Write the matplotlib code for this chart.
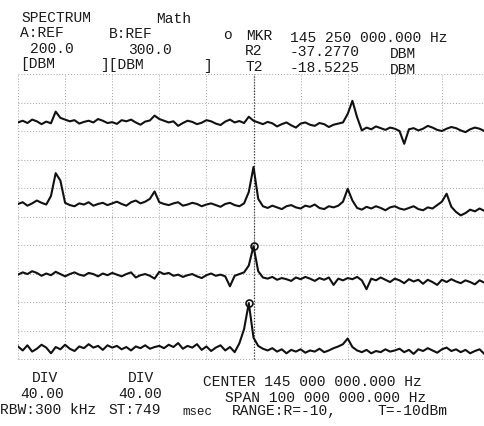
import numpy as np
import matplotlib.pyplot as plt

# sweep axis: CENTER 145 MHz, SPAN 100 MHz -> 95 .. 195 MHz in 1 MHz steps
freq_mhz = np.arange(95, 196)

# trace levels, in divisions (0 = bottom line, 10 = top line)
trace_1 = [
    8.30, 8.36, 8.28, 8.40, 8.34, 8.24, 8.33, 8.27, 8.68, 8.46,
    8.40, 8.34, 8.38, 8.26, 8.32, 8.36, 8.30, 8.42, 8.36, 8.28,
    8.31, 8.25, 8.38, 8.34, 8.40, 8.30, 8.22, 8.33, 8.37, 8.54,
    8.42, 8.36, 8.30, 8.34, 8.18, 8.28, 8.36, 8.32, 8.24, 8.29,
    8.38, 8.34, 8.26, 8.21, 8.33, 8.40, 8.30, 8.35, 8.28, 8.50,
    8.36, 8.30, 8.24, 8.32, 8.27, 8.16, 8.24, 8.30, 8.20, 8.12,
    8.26, 8.30, 8.22, 8.18, 8.28, 8.24, 8.14, 8.22, 8.26, 8.30,
    8.60, 9.06, 8.48, 8.02, 8.12, 8.06, 8.16, 8.10, 8.04, 8.12,
    8.08, 8.00, 7.55, 8.06, 8.10, 8.02, 8.08, 8.18, 8.12, 8.04,
    8.00, 8.08, 8.14, 8.10, 8.02, 7.96, 8.06, 8.12, 8.08, 8.00, 8.06,
]
trace_2 = [
    5.44, 5.50, 5.38, 5.46, 5.56, 5.48, 5.42, 5.72, 6.52, 6.26,
    5.48, 5.40, 5.36, 5.46, 5.42, 5.50, 5.38, 5.44, 5.48, 5.40,
    5.46, 5.52, 5.44, 5.38, 5.50, 5.56, 5.46, 5.52, 5.62, 5.88,
    5.50, 5.44, 5.40, 5.46, 5.50, 5.38, 5.42, 5.48, 5.44, 5.36,
    5.42, 5.46, 5.40, 5.34, 5.44, 5.48, 5.40, 5.36, 5.46, 5.86,
    6.74, 5.62, 5.36, 5.30, 5.38, 5.32, 5.26, 5.36, 5.40, 5.32,
    5.28, 5.38, 5.34, 5.42, 5.30, 5.26, 5.36, 5.32, 5.38, 5.52,
    5.97, 5.56, 5.30, 5.24, 5.34, 5.28, 5.36, 5.30, 5.22, 5.32,
    5.36, 5.28, 5.24, 5.30, 5.36, 5.26, 5.22, 5.32, 5.28, 5.40,
    5.52, 5.80, 5.34, 5.16, 5.04, 5.12, 5.24, 5.18, 5.28, 5.20, 5.24,
]
trace_3 = [
    2.96, 3.04, 2.98, 3.08, 3.02, 2.92, 3.00, 2.94, 3.06, 2.98,
    2.90, 2.98, 3.04, 2.96, 2.92, 3.02, 2.98, 2.90, 3.00, 2.94,
    3.02, 2.96, 2.90, 2.98, 3.04, 2.86, 2.94, 2.98, 2.92, 2.82,
    3.06, 2.98, 3.02, 2.92, 2.96, 2.88, 2.94, 2.98, 2.90, 2.84,
    2.94, 3.00, 2.92, 2.96, 2.90, 2.55, 2.92, 2.98, 3.04, 3.28,
    3.96, 3.08, 2.86, 2.82, 2.88, 2.78, 2.84, 2.80, 2.74, 2.86,
    2.80, 2.88, 2.82, 2.74, 2.84, 2.78, 2.86, 2.60, 2.82, 2.76,
    2.84, 2.80, 2.88, 2.76, 2.45, 2.82, 2.76, 2.86, 2.78, 2.70,
    2.82, 2.76, 2.66, 2.80, 2.72, 2.78, 2.64, 2.78, 2.70, 2.60,
    2.78, 2.70, 2.80, 2.72, 2.66, 2.76, 2.70, 2.62, 2.76, 2.68, 2.72,
]
trace_4 = [
    0.44, 0.30, 0.48, 0.26, 0.36, 0.50, 0.40, 0.20, 0.42, 0.34,
    0.50, 0.36, 0.28, 0.44, 0.38, 0.52, 0.40, 0.46, 0.32, 0.48,
    0.40, 0.46, 0.34, 0.42, 0.30, 0.44, 0.38, 0.48, 0.36, 0.42,
    0.46, 0.38, 0.50, 0.42, 0.56, 0.36, 0.46, 0.40, 0.52, 0.32,
    0.44, 0.28, 0.40, 0.48, 0.30, 0.42, 0.24, 0.55, 1.05, 1.96,
    0.75, 0.46, 0.36, 0.30, 0.38, 0.26, 0.34, 0.20, 0.32, 0.26,
    0.34, 0.22, 0.30, 0.26, 0.36, 0.24, 0.30, 0.38, 0.44, 0.52,
    0.72, 0.42, 0.30, 0.24, 0.32, 0.20, 0.28, 0.24, 0.34, 0.26,
    0.30, 0.36, 0.24, 0.32, 0.18, 0.34, 0.28, 0.38, 0.30, 0.22,
    0.34, 0.40, 0.28, 0.34, 0.24, 0.32, 0.20, 0.28, 0.34, 0.18, 0.28,
]
# marker sits on the peak of the two lower traces
marker_points = [(trace_3, 50), (trace_4, 49)]

header = [
    (21, 22, "SPECTRUM"), (156, 23, "Math"),
    (20, 37, "A:REF"), (109, 38, "B:REF"), (223, 39, "o"), (246, 40, "MKR"),
    (290, 42, "145 250 000.000 Hz"),
    (30, 53, "200.0"), (128, 54, "300.0"), (245, 55, "R2"),
    (290, 56, "-37.2770"), (390, 58, "DBM"),
    (20, 68, "[DBM"), (100, 69, "][DBM"), (203, 70, "]"), (245, 71, "T2"),
    (290, 72, "-18.5225"), (390, 74, "DBM"),
]
footer = [
    (32, 382, "DIV"), (128, 382, "DIV"),
    (203, 386, "CENTER 145 000 000.000 Hz"),
    (20, 398, "40.00"), (118, 398, "40.00"),
    (225, 402, "SPAN 100 000 000.000 Hz"),
    (0, 414, "RBW:300 kHz"), (108, 414, "ST:749"),
    (232, 415, "RANGE:R=-10,"), (378, 415, "T=-10dBm"),
]

W, H = 484, 427
fig = plt.figure(figsize=(W / 100, H / 100), dpi=100)
ax = fig.add_axes([18 / W, 1 - 360 / H, 471 / W, 285 / H])
ax.set_xlim(95, 195)
ax.set_ylim(0, 10)
ax.axis('off')

# dotted 10 x 10 graticule, centre line a bit denser
for k in range(11):
    ax.axvline(95 + 10 * k, color='#a0a0a0', lw=0.7, ls=(0, (1, 2)), clip_on=False)
    ax.axhline(k, color='#a0a0a0', lw=0.7, ls=(0, (1, 2)), clip_on=False)
ax.axvline(145, color='#3a3a3a', lw=0.9, ls=(0, (1, 1.3)), clip_on=False)

for tr in [trace_1, trace_2, trace_3, trace_4]:
    ax.plot(freq_mhz, tr, color='#111111', lw=1.5)

for tr, i in marker_points:
    ax.plot(freq_mhz[i], tr[i], marker='o', ms=5, mfc='none', mec='#111111', mew=1.2)


def put(x, y, s, size=10.5):
    fig.text(x / W, 1 - y / H, s, fontsize=size, family='Liberation Mono',
             color='#1a1a1a', ha='left', va='baseline')


for x, y, s in header + footer:
    put(x, y, s)
put(182, 415, "msec", size=9)

fig.savefig('out.png', dpi=100)
